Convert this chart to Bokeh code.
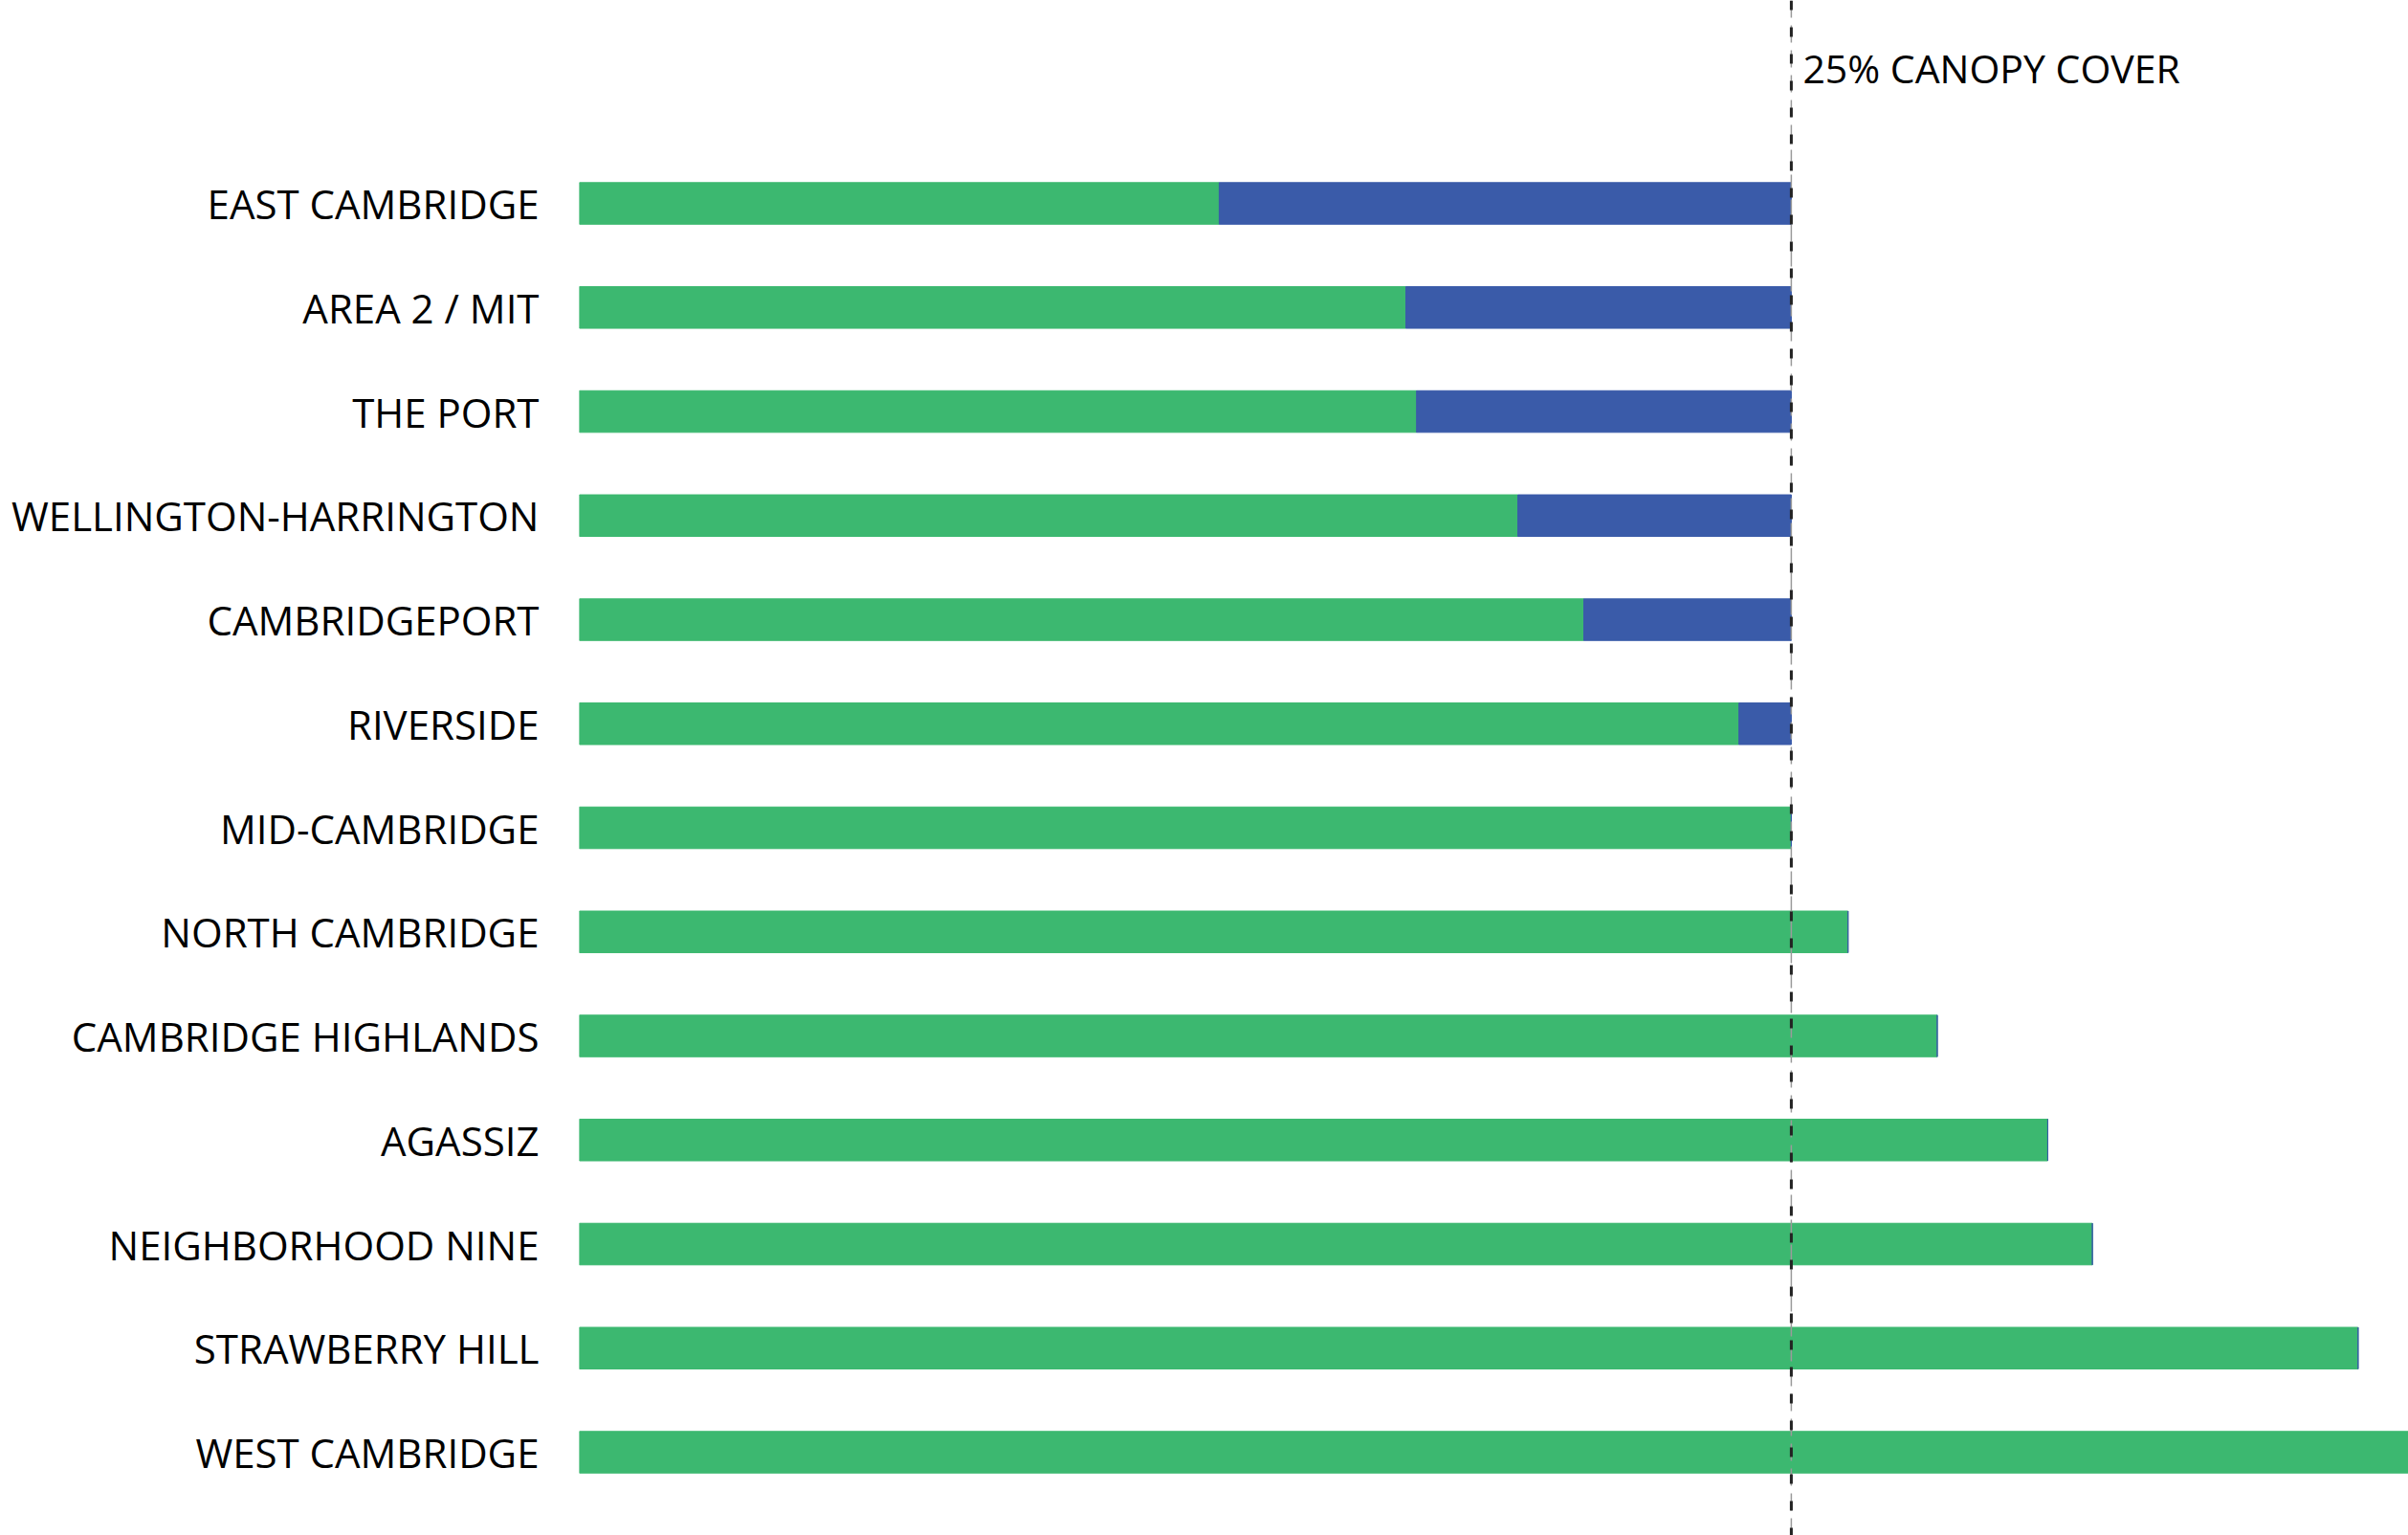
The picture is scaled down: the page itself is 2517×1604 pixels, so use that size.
from bokeh.plotting import figure
from bokeh.models import Range1d, FixedTicker, Span, ColumnDataSource, Label
from bokeh.embed import file_html
from bokeh.resources import INLINE

neighborhoods = ["EAST CAMBRIDGE", "AREA 2 / MIT", "THE PORT", "WELLINGTON-HARRINGTON",
                 "CAMBRIDGEPORT", "RIVERSIDE", "MID-CAMBRIDGE", "NORTH CAMBRIDGE",
                 "CAMBRIDGE HIGHLANDS", "AGASSIZ", "NEIGHBORHOOD NINE", "STRAWBERRY HILL",
                 "WEST CAMBRIDGE"]
canopy_pct = [13.2, 17.05, 17.27, 19.36, 20.72, 23.92, 25.0, 26.17, 28.01, 30.29, 31.21, 36.69, 38.5]
target_pct = 25.0
target_label = "25% CANOPY COVER"

GREEN = "#3cb870"
BLUE = "#3a5ba9"

idx = list(range(len(neighborhoods)))
gap = [max(target_pct - v, 0) for v in canopy_pct]
src = ColumnDataSource(dict(y=idx, canopy=canopy_pct, gap_start=canopy_pct,
                            gap_end=[c + g for c, g in zip(canopy_pct, gap)],
                            zero=[0] * len(idx)))

p = figure(width=2517, height=1604, output_backend="svg", toolbar_location=None,
           x_range=Range1d(0, 37.73), y_range=Range1d(len(idx) - 1 + 0.8, -1.95),
           min_border_left=605, min_border_right=0, min_border_top=0, min_border_bottom=0,
           outline_line_color=None, background_fill_color="white", border_fill_color="white")

p.hbar(y="y", left="zero", right="canopy", height=0.4, color=GREEN, source=src)
p.hbar(y="y", left="gap_start", right="gap_end", height=0.4, color=BLUE, source=src)

p.add_layout(Span(location=target_pct, dimension="height", line_color="#9a9a9a",
                  line_width=1.5, line_dash="18 8"))
p.add_layout(Span(location=target_pct, dimension="height", line_color="#222222",
                  line_width=3, line_dash="10 18"))

p.add_layout(Label(x=target_pct, y=-1.3, text=target_label, x_offset=12,
                   text_font="Open Sans", text_font_size="41px", text_color="black",
                   text_baseline="middle", text_align="left"))

p.xaxis.visible = False
p.grid.visible = False
yax = p.yaxis[0]
yax.ticker = FixedTicker(ticks=idx)
yax.major_label_overrides = {i: n for i, n in zip(idx, neighborhoods)}
yax.axis_line_color = None
yax.major_tick_line_color = None
yax.minor_tick_line_color = None
yax.major_tick_in = 0
yax.major_tick_out = 0
yax.major_label_standoff = 42
yax.major_label_text_font = "Open Sans"
yax.major_label_text_font_size = "42px"
yax.major_label_text_color = "black"

open("out.html", "w").write(file_html(p, INLINE))
